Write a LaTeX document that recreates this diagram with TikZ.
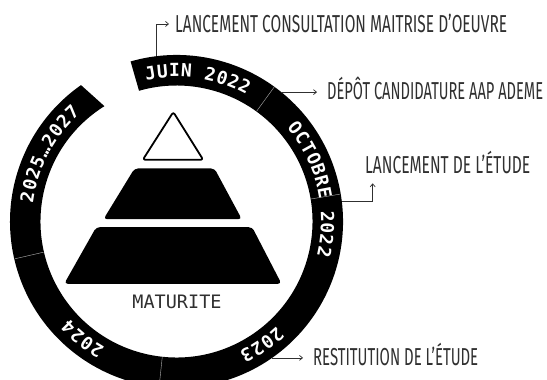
\documentclass[tikz,border=0pt]{standalone}
\usepackage{fontspec}
\usepackage{graphicx}
\setmainfont{Fira Sans}
\newfontfamily\monofam{DejaVu Sans Mono}
\newfontfamily\notefont{Fira Sans}
\usetikzlibrary{arrows.meta}
\definecolor{ink}{HTML}{303030}
\tikzset{
  ringch/.style={text=white, font=\monofam\bfseries\fontsize{18}{18}\selectfont, inner sep=0pt, anchor=base},
  seam/.style={draw=gray!60, line width=0.4pt},
  conn/.style={draw=ink, line width=0.7pt, -{Straight Barb[length=3pt,width=5pt]}},
  note/.style={text=ink, font=\notefont\fontsize{24.5}{24.5}\selectfont, inner sep=0pt, anchor=base west},
  tier/.style={fill=black, rounded corners=3.5pt},
  apex/.style={draw=black, fill=white, line width=1.8pt, rounded corners=2.5pt, line join=round},
}
\newcommand\ringtext[4]{%
  \foreach \ch [count=\i from 0] in {#4}{%
    \pgfmathsetmacro\ang{#2-\i*#3}%
    \node[ringch, rotate=\ang-90] (#1\i) at ([shift={(\ang:144.6)}]C) {\ch};
  }}
\begin{document}
\begin{tikzpicture}[x=1pt,y=1pt]
\useasboundingbox (0,0) rectangle (547,380);
\fill[white] (0,0) rectangle (547,380);
\coordinate (C) at (176.5,158.5);
\begin{scope}
\clip (0,0) rectangle (547,380);
\fill[black] ([shift={(106:166.5)}]C) arc[start angle=106,end angle=-235,radius=166.5]
  -- ([shift={(-238:136)}]C) arc[start angle=-238,end angle=106,radius=136] -- cycle;
\foreach \s in {54,9.5,-96,193}{
  \draw[seam] ([shift={(\s:136.3)}]C) -- ([shift={(\s:166.2)}]C);
}
\end{scope}
% ring labels
\ringtext{juin}{100}{4.6}{J,U,I,N}
\ringtext{ya}{77}{4.6}{2,0,2,2}
\ringtext{oct}{38.2}{4.55}{O,C,T,O,B,R,E}
\ringtext{yb}{2}{4.55}{2,0,2,2}
\ringtext{yc}{-48.4}{4.6}{2,0,2,3}
\ringtext{yd}{238.2}{4.6}{2,0,2,4}
\ringtext{ye}{170.6}{4.6}{2,0,2,5,…,2,0,2,7}
% pyramid
\draw[apex] (173.3,268) -- (142.8,220.2) -- (203.2,220.2) -- cycle;
\fill[tier] (134.5,211.5) -- (214.5,211.5) -- (241.8,160.8) -- (103.5,160.8) -- cycle;
\fill[tier] (96.2,152.8) -- (252.2,152.8) -- (281.5,96.2) -- (64.2,96.2) -- cycle;
\node[font=\monofam\fontsize{18.5}{18.5}\selectfont, text=ink, inner sep=0pt] (mat) at (177,78) {MATURITE};
% annotations
\node[note] (t1) at (175,347) {\resizebox{332pt}{\height}{LANCEMENT CONSULTATION MAITRISE D’OEUVRE}};
\node[note] (t2) at (327,280) {\resizebox{216pt}{\height}{DÉPÔT CANDIDATURE AAP ADEME}};
\node[note] (t3) at (365,206.7) {\resizebox{165pt}{\height}{LANCEMENT DE L’ÉTUDE}};
\node[note] (t4) at (313,14) {\resizebox{165pt}{\height}{RESTITUTION DE L’ÉTUDE}};
% connectors
\coordinate (r1) at ([shift={(97:166.5)}]C);
\coordinate (r2) at ([shift={(51:166.5)}]C);
\coordinate (r3) at ([shift={(7:166.5)}]C);
\coordinate (r4) at ([shift={(-55:166.5)}]C);
\coordinate (e1) at ([xshift=-6pt,yshift=9pt]t1.base west);
\coordinate (e2) at ([xshift=-10pt]t2.base west);
\coordinate (e3) at ([xshift=7.7pt,yshift=-10pt]t3.base west);
\coordinate (e4) at ([xshift=-10pt]t4.base west);
\draw[conn] (r1) |- (e1);
\draw[conn] (r2) -- (e2 |- r2);
\draw[conn] (r3) -| (e3);
\draw[conn] (r4) -- (e4 |- r4);
\end{tikzpicture}
\end{document}
